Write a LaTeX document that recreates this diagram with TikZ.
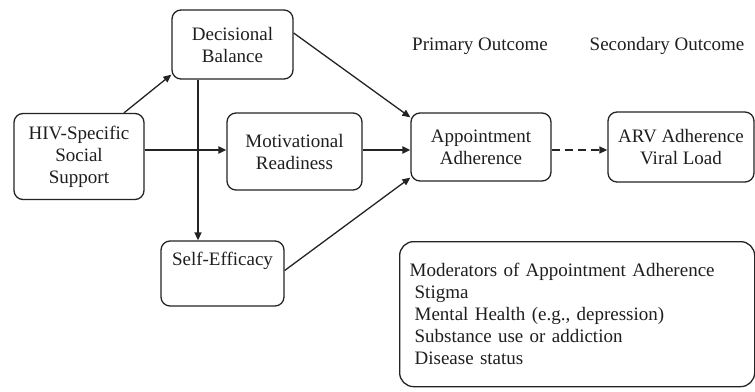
\documentclass[tikz,border=0pt]{standalone}
\usepackage{fontspec}
\setmainfont{Liberation Serif}
\usetikzlibrary{arrows.meta,positioning,calc}
\definecolor{boxline}{RGB}{35,35,35}
\definecolor{boxtext}{RGB}{30,30,30}

\begin{document}
\begin{tikzpicture}[x=1pt, y=-1pt,
    box/.style={draw=boxline, line width=1.3pt, rounded corners=9pt, align=center,
        text=boxtext, font=\fontsize{19}{22}\selectfont, inner sep=0pt},
    lbl/.style={text=boxtext, font=\fontsize{19}{22}\selectfont},
    link/.style={draw=boxline, line width=1.3pt, -{Triangle[length=8pt,width=7pt]}},
    mainlink/.style={link, line width=2pt}]

    \useasboundingbox (0,0) rectangle (755,391);

    % BOITES
    \node[box, minimum width=130pt, minimum height=86pt] (hiv) at (79,156.5) {HIV-Specific\\Social\\Support};
    \node[box, minimum width=121pt, minimum height=69pt] (dec) at (232.5,44.5) {Decisional\\Balance};
    \node[box, minimum width=135pt, minimum height=77pt] (mot) at (294.5,151.5) {Motivational\\Readiness};
    \node[box, minimum width=123pt, minimum height=65pt] (self) at (222.5,273.5) {Self-Efficacy\\ \strut};
    \node[box, minimum width=140pt, minimum height=68pt] (app) at (481,147) {Appointment\\Adherence};
    \node[box, minimum width=146pt, minimum height=70pt] (arv) at (681,147) {ARV Adherence\\Viral Load};

    % TITRES DES RESULTATS
    \node[lbl] (primary) at (480,46) {Primary Outcome};
    \node[lbl] (secondary) at (667,46) {Secondary Outcome};

    % MODERATEURS
    \node[box, anchor=north west, align=left, text width=335pt, inner xsep=10pt,
        minimum height=145pt, rounded corners=14pt] (mods) at (399,241) {%
        Moderators of Appointment Adherence\\
        \hspace*{5pt}Stigma\\
        \hspace*{5pt}Mental Health (e.g., depression)\\
        \hspace*{5pt}Substance use or addiction\\
        \hspace*{5pt}Disease status\\[4pt]};

    % FLECHES
    \coordinate (midrow) at (0,150);
    \draw[link] ([xshift=45pt]hiv.north) -- ([yshift=5pt]dec.south west);
    \draw[mainlink] (hiv.east |- midrow) -- (mot.west |- midrow);
    \draw[link] ([xshift=-34.5pt]dec.south) coordinate (dsplit) -- (dsplit |- self.north);
    \draw[link] ([yshift=11.5pt]dec.east) -- ([yshift=-5pt]app.north west);
    \draw[mainlink] (mot.east |- midrow) -- (app.west |- midrow);
    \draw[link] ([yshift=3pt]self.east) -- ([yshift=4pt]app.south west);
    \draw[link, dash pattern=on 8pt off 5pt] (app.east |- midrow) -- (arv.west |- midrow);

\end{tikzpicture}
\end{document}
